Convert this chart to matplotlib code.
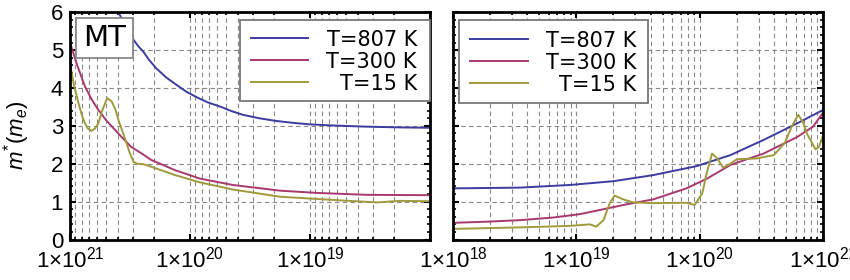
import matplotlib
matplotlib.use("Agg")
import matplotlib.pyplot as plt
from matplotlib.ticker import FixedLocator, FuncFormatter, MultipleLocator
from matplotlib.patches import Rectangle
import numpy as np

plt.rcParams['font.family'] = ['Liberation Sans', 'DejaVu Sans']
plt.rcParams['mathtext.fontset'] = 'custom'
plt.rcParams['mathtext.rm'] = 'Liberation Sans'
plt.rcParams['mathtext.it'] = 'Liberation Sans:italic'

labels = ['T=807 K', 'T=300 K', 'T=15 K']
colors = ['#3c3ca0', '#a8386e', '#a09a3c']

# ---- left panel (density decreasing) ----
left_807_n = [4.47e20, 3.98e20, 3.55e20, 3.16e20, 2.95e20, 2.69e20, 2.45e20, 2.19e20, 1.91e20,
              1.58e20, 1.29e20, 1.07e20, 8.7e19, 7.1e19, 5.6e19, 4.5e19, 3.6e19, 2.63e19,
              1.91e19, 1.38e19, 1.0e19, 6.3e18, 3.4e18, 1.78e18, 1.0e18]
left_807_m = [6.35, 6.02, 5.72, 5.45, 5.27, 5.10, 4.96, 4.74, 4.52,
              4.28, 4.08, 3.90, 3.75, 3.62, 3.51, 3.39, 3.29, 3.20,
              3.13, 3.08, 3.04, 3.01, 2.98, 2.96, 2.95]

left_300_n = [1.0e21, 8.7e20, 7.5e20, 6.6e20, 5.8e20, 5.0e20, 4.2e20, 3.6e20, 3.1e20, 2.5e20,
              2.1e20, 1.33e20, 8.3e19, 4.4e19, 1.78e19, 8.7e18, 3.4e18, 1.0e18]
left_300_m = [5.2, 4.6, 4.04, 3.70, 3.42, 3.15, 2.89, 2.66, 2.45, 2.26,
              2.10, 1.83, 1.61, 1.44, 1.29, 1.23, 1.18, 1.17]

left_15_n = [1.0e21, 9.3e20, 8.5e20, 7.9e20, 7.5e20, 7.1e20, 6.6e20, 6.2e20, 5.8e20, 5.4e20,
             4.9e20, 4.5e20, 4.2e20, 3.9e20, 3.6e20, 3.16e20, 2.95e20, 2.75e20, 2.45e20, 2.1e20,
             1.33e20, 8.3e19, 4.4e19, 1.78e19, 8.7e18, 4.7e18, 2.75e18, 1.78e18, 1.0e18]
left_15_m = [4.65, 4.10, 3.60, 3.25, 3.07, 2.93, 2.87, 2.93, 3.07, 3.40,
             3.73, 3.65, 3.45, 3.10, 2.80, 2.27, 2.05, 2.00, 1.99, 1.92,
             1.70, 1.51, 1.32, 1.13, 1.07, 1.02, 0.98, 1.02, 1.01]

# ---- right panel (density increasing) ----
right_807_n = [1.0e18, 3.47e18, 8.9e18, 2.0e19, 4.2e19, 9.5e19, 1.78e20, 3.3e20, 6.2e20, 1.0e21]
right_807_m = [1.35, 1.37, 1.44, 1.54, 1.70, 1.94, 2.23, 2.63, 3.07, 3.42]

right_300_n = [1.0e18, 1.86e18, 3.47e18, 6.5e18, 1.07e19, 1.66e19, 2.57e19, 4.2e19, 5.1e19,
               7.8e19, 1.15e20, 1.78e20, 3.3e20, 6.2e20, 8.3e20, 1.0e21]
right_300_m = [0.44, 0.47, 0.51, 0.58, 0.67, 0.80, 0.93, 1.06, 1.15,
               1.35, 1.61, 1.97, 2.27, 2.71, 2.98, 3.35]

right_15_n = [1.0e18, 3.47e18, 8.9e18, 1.29e19, 1.45e19, 1.66e19, 1.86e19, 2.04e19,
              2.4e19, 2.88e19, 4.2e19, 7.8e19, 9.1e19, 1.05e20, 1.15e20, 1.26e20,
              1.38e20, 1.55e20, 1.74e20, 2.0e20, 2.9e20, 4.0e20, 4.9e20, 5.6e20, 6.3e20,
              6.9e20, 7.4e20, 8.7e20, 9.3e20, 1.0e21]
right_15_m = [0.28, 0.32, 0.36, 0.40, 0.34, 0.51, 0.95, 1.16,
              1.06, 0.98, 0.96, 0.97, 0.91, 1.22, 1.80, 2.27,
              2.15, 1.90, 1.98, 2.12, 2.14, 2.23, 2.55, 3.00, 3.29,
              3.10, 2.80, 2.38, 2.45, 2.75]

W, H = 850, 280
fig = plt.figure(figsize=(W / 100, H / 100), dpi=100)
AX_TOP, AX_BOT = 12.3, 239.5
axL = fig.add_axes([70 / W, 1 - AX_BOT / H, 360 / W, (AX_BOT - AX_TOP) / H])
axR = fig.add_axes([453 / W, 1 - AX_BOT / H, 370 / W, (AX_BOT - AX_TOP) / H])

grid_kw = dict(color='#888888', linestyle=(0, (4, 3)), linewidth=0.8)

def fmt(hide):
    def f(x, pos):
        e = int(round(np.log10(x)))
        if e in hide:
            return ''
        return '1\u00d710$^{%d}$' % e
    return f

for ax, xl, hide in [(axL, (1e21, 1e18), [18]), (axR, (1e18, 1e21), [])]:
    ax.set_xscale('log')
    ax.set_xlim(*xl)
    ax.set_ylim(0, 6)
    ax.xaxis.set_major_locator(FixedLocator([1e18, 1e19, 1e20, 1e21]))
    ax.xaxis.set_major_formatter(FuncFormatter(fmt(hide)))
    ax.yaxis.set_major_locator(MultipleLocator(1))
    ax.yaxis.set_minor_locator(MultipleLocator(0.2))
    ax.grid(True, which='major', axis='y', **grid_kw)
    ax.grid(True, which='both', axis='x', **grid_kw)
    ax.tick_params(which='both', direction='in', top=True, right=True, labelsize=16, pad=5)
    ax.tick_params(which='major', length=4, width=1.5)
    ax.tick_params(which='minor', length=2.5, width=1.2)
    ax.xaxis.set_minor_formatter(FuncFormatter(lambda x, p: ''))
    for s in ax.spines.values():
        s.set_linewidth(2)
    ax.set_axisbelow(True)

axR.tick_params(labelleft=False)

lw = 1.4
for n, m, c, lab in [(left_807_n, left_807_m, colors[0], labels[0]),
                     (left_300_n, left_300_m, colors[1], labels[1]),
                     (left_15_n, left_15_m, colors[2], labels[2])]:
    axL.plot(n, m, color=c, lw=lw, label=lab)
for n, m, c, lab in [(right_807_n, right_807_m, colors[0], labels[0]),
                     (right_300_n, right_300_m, colors[1], labels[1]),
                     (right_15_n, right_15_m, colors[2], labels[2])]:
    axR.plot(n, m, color=c, lw=lw, label=lab)

axL.set_ylabel('$m^{*}(m_e)$', fontsize=16)
axL.yaxis.set_label_coords(-0.105, 0.46)


def px_to_ax(ax, x0px, wpx, px, py):
    return ((px - x0px) / wpx, (AX_BOT - py) / (AX_BOT - AX_TOP))


def boxed_legend(ax, x0px, wpx, box, line_x, text_right, rows_y):
    bx0, by0 = px_to_ax(ax, x0px, wpx, box[0], box[3])
    bx1, by1 = px_to_ax(ax, x0px, wpx, box[2], box[1])
    ax.add_patch(Rectangle((bx0, by0), bx1 - bx0, by1 - by0, transform=ax.transAxes,
                           facecolor='white', edgecolor='#777777', lw=1.3, zorder=5,
                           clip_on=False))
    for lab, c, y in zip(labels, colors, rows_y):
        xa, ya = px_to_ax(ax, x0px, wpx, line_x[0], y)
        xb, _ = px_to_ax(ax, x0px, wpx, line_x[1], y)
        ax.plot([xa, xb], [ya, ya], transform=ax.transAxes, color=c, lw=lw, zorder=6,
                clip_on=False)
        xt, _ = px_to_ax(ax, x0px, wpx, text_right, y)
        ax.text(xt, ya, lab, transform=ax.transAxes, ha='right', va='center_baseline',
                fontsize=15, family='DejaVu Sans', zorder=7)


boxed_legend(axL, 70, 360, (240, 20, 430, 101), (251, 308), 417, (38, 60, 82))
boxed_legend(axR, 453, 370, (459, 20, 648, 103), (470, 528), 636, (39.3, 61, 82.7))

# "MT" label box
mx0, my0 = px_to_ax(axL, 70, 360, 76, 58)
mx1, my1 = px_to_ax(axL, 70, 360, 133, 18)
axL.add_patch(Rectangle((mx0, my0), mx1 - mx0, my1 - my0, transform=axL.transAxes,
                        facecolor='white', edgecolor='#888888', lw=1.3, zorder=5))
axL.text((mx0 + mx1) / 2, (my0 + my1) / 2, 'MT', transform=axL.transAxes, fontsize=21,
         family='DejaVu Sans', ha='center', va='center', zorder=6)

fig.savefig('out.png', dpi=100)
